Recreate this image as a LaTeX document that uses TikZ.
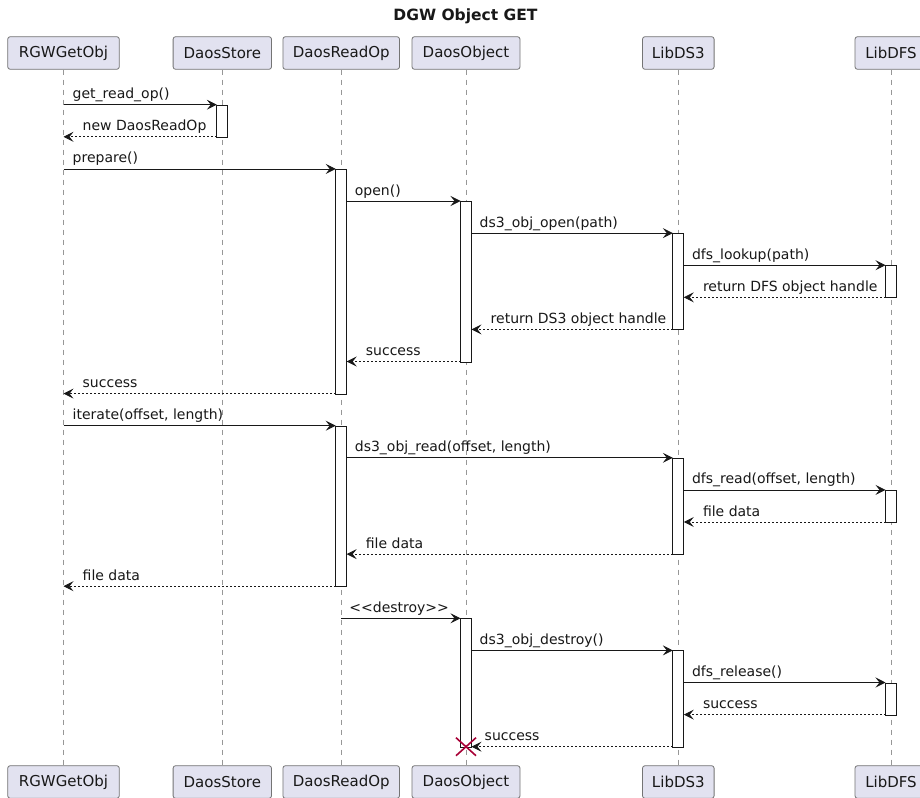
\documentclass[tikz,border=0pt]{standalone}
\usepackage{fontspec}
\newfontfamily\dv{DejaVu Sans}
\usetikzlibrary{arrows.meta}
\definecolor{partfill}{HTML}{E2E2F0}
\definecolor{ln}{HTML}{181818}
\definecolor{destroyred}{HTML}{A80036}
\def\xR{63.5}
\def\xS{222.3}
\def\xP{341.2}
\def\xO{466}
\def\xL{678.3}
\def\xF{891}
\tikzset{
  part/.style={draw=ln!60, line width=0.8pt, fill=partfill, rounded corners=2.5pt,
    minimum height=32.6pt, inner sep=0pt, font=\dv\fontsize{15}{18}\selectfont, text=ln},
  actbar/.style={draw=ln, line width=0.8pt, fill=white, inner sep=0pt, minimum width=11pt, anchor=north},
  lifeline/.style={draw=ln!45, line width=0.7pt, dash pattern=on 5pt off 5pt},
  call/.style={draw=ln, line width=0.8pt, -{Stealth[length=10pt,width=10pt,inset=4pt]}},
  ret/.style={call, dash pattern=on 2pt off 2pt},
  lbl/.style={font=\dv\fontsize{14}{16}\selectfont, inner sep=0pt, anchor=base west, text=ln},
  xmark/.style={draw=destroyred, line width=1.6pt}
}
\newcommand\mymsg[7]{%
  \coordinate (#1s) at (#2,#4);
  \coordinate (#1e) at (#3,#4);
  \draw[#5] (#1s) -- (#1e);
  \node[lbl] (#1l) at ({min(#2,#3)+#7},{#4-6}) {#6};
}
\newcommand\myact[4]{%
  \node[actbar, minimum height={#4-#3}] (#1) at (#2,#3) {};
}
\begin{document}
\begin{tikzpicture}[x=1pt,y=-1pt]
\useasboundingbox[fill=white] (0,0) rectangle (920,797);

\node[font=\dv\bfseries\fontsize{15.5}{18}\selectfont, anchor=base, inner sep=0pt, text=ln] (title) at (465.5,20.5) {DGW Object GET};

% participants
\node[part, minimum width=111.6pt] (rgwT) at (\xR,53) {RGWGetObj};
\node[part, minimum width=98.4pt] (stoT) at (\xS,53) {DaosStore};
\node[part, minimum width=116.6pt] (rdoT) at (\xP,53) {DaosReadOp};
\node[part, minimum width=108pt] (objT) at (\xO,53) {DaosObject};
\node[part, minimum width=71.6pt] (ds3T) at (\xL,53) {LibDS3};
\node[part, minimum width=72pt] (dfsT) at (\xF,53) {LibDFS};

\node[part, minimum width=111.6pt] (rgwB) at (\xR,782) {RGWGetObj};
\node[part, minimum width=98.4pt] (stoB) at (\xS,782) {DaosStore};
\node[part, minimum width=116.6pt] (rdoB) at (\xP,782) {DaosReadOp};
\node[part, minimum width=108pt] (objB) at (\xO,782) {DaosObject};
\node[part, minimum width=71.6pt] (ds3B) at (\xL,782) {LibDS3};
\node[part, minimum width=72pt] (dfsB) at (\xF,782) {LibDFS};

% lifelines
\draw[lifeline] (rgwT.south) -- (rgwB.north);
\draw[lifeline] (stoT.south) -- (stoB.north);
\draw[lifeline] (rdoT.south) -- (rdoB.north);
\draw[lifeline] (objT.south) -- (objB.north);
\draw[lifeline] (ds3T.south) -- (ds3B.north);
\draw[lifeline] (dfsT.south) -- (dfsB.north);

% activation bars
\myact{aS1}{\xS}{104.7}{136.8}
\myact{aP1}{\xP}{168.9}{393.6}
\myact{aO1}{\xO}{201.0}{361.5}
\myact{aL1}{\xL}{233.1}{329.4}
\myact{aF1}{\xF}{265.2}{297.3}
\myact{aP2}{\xP}{425.7}{586.2}
\myact{aL2}{\xL}{457.8}{554.1}
\myact{aF2}{\xF}{489.9}{522.0}
\myact{aO2}{\xO}{618.3}{746.7}
\myact{aL3}{\xL}{650.4}{746.7}
\myact{aF3}{\xF}{682.5}{714.6}

% messages
\mymsg{m1}{\xR}{\xS-5.5}{104.7}{call}{get\_read\_op()}{9}
\mymsg{m2}{\xS-5.5}{\xR}{136.8}{ret}{new DaosReadOp}{19}
\mymsg{m3}{\xR}{\xP-5.5}{168.9}{call}{prepare()}{9}
\mymsg{m4}{\xP+5.5}{\xO-5.5}{201.0}{call}{open()}{8}
\mymsg{m5}{\xO+5.5}{\xL-5.5}{233.1}{call}{ds3\_obj\_open(path)}{8}
\mymsg{m6}{\xL+5.5}{\xF-5.5}{265.2}{call}{dfs\_lookup(path)}{8}
\mymsg{m7}{\xF-5.5}{\xL+5.5}{297.3}{ret}{return DFS object handle}{19}
\mymsg{m8}{\xL-5.5}{\xO+5.5}{329.4}{ret}{return DS3 object handle}{19}
\mymsg{m9}{\xO-5.5}{\xP+5.5}{361.5}{ret}{success}{19}
\mymsg{m10}{\xP-5.5}{\xR}{393.6}{ret}{success}{19}
\mymsg{m11}{\xR}{\xP-5.5}{425.7}{call}{iterate(offset, length)}{9}
\mymsg{m12}{\xP+5.5}{\xL-5.5}{457.8}{call}{ds3\_obj\_read(offset, length)}{8}
\mymsg{m13}{\xL+5.5}{\xF-5.5}{489.9}{call}{dfs\_read(offset, length)}{8}
\mymsg{m14}{\xF-5.5}{\xL+5.5}{522.0}{ret}{file data}{19}
\mymsg{m15}{\xL-5.5}{\xP+5.5}{554.1}{ret}{file data}{19}
\mymsg{m16}{\xP-5.5}{\xR}{586.2}{ret}{file data}{19}
\mymsg{m17}{\xP}{\xO-5.5}{618.3}{call}{<<destroy>>}{8}
\mymsg{m18}{\xO+5.5}{\xL-5.5}{650.4}{call}{ds3\_obj\_destroy()}{8}
\mymsg{m19}{\xL+5.5}{\xF-5.5}{682.5}{call}{dfs\_release()}{8}
\mymsg{m20}{\xF-5.5}{\xL+5.5}{714.6}{ret}{success}{19}
\mymsg{m21}{\xL-5.5}{\xO+5.5}{746.7}{ret}{success}{13}

% destroy mark
\coordinate (dx) at (\xO,746.7);
\draw[xmark] (dx) ++(-10,-9) -- ++(20,18);
\draw[xmark] (dx) ++(-10,9) -- ++(20,-18);
\end{tikzpicture}
\end{document}
